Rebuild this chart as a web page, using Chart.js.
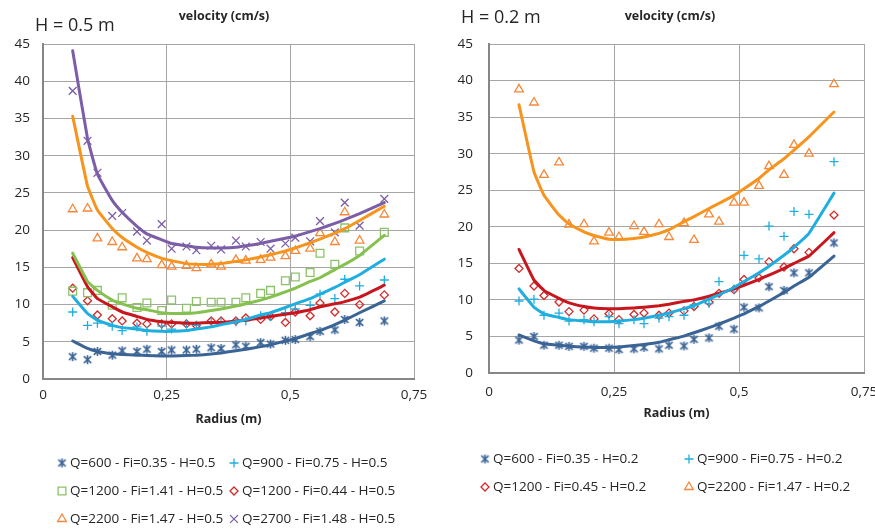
<!DOCTYPE html>
<html>
<head>
<meta charset="utf-8">
<script src="https://cdn.jsdelivr.net/npm/chart.js@4.4.1/dist/chart.umd.min.js"></script>
<style>
html, body { margin: 0; padding: 0; background: #fff; width: 875px; height: 529px; overflow: hidden; }
canvas { position: absolute; top: 0; }
#leftChart { left: 0; }
#rightChart { left: 440px; }
.txt { position: absolute; font-family: "Open Sans", sans-serif; color: #262626; white-space: nowrap; line-height: 1; }
.big { font-size: 18px; }
.small { font-size: 12.5px; font-weight: bold; transform: translateX(-50%); }
</style>
</head>
<body>
<canvas id="leftChart" width="440" height="529"></canvas>
<canvas id="rightChart" width="460" height="529"></canvas>
<div class="txt big" style="left:35px; top:15px;">H = 0.5 m</div>
<div class="txt small" style="left:224px; top:10px;">velocity (cm/s)</div>
<div class="txt big" style="left:461px; top:7px;">H = 0.2 m</div>
<div class="txt small" style="left:670px; top:10px;">velocity (cm/s)</div>
<script>
// radius positions of the measurements (m)
const radius = [0.06, 0.09, 0.11, 0.14, 0.16, 0.19, 0.21, 0.24, 0.26, 0.29, 0.31, 0.34, 0.36,
                0.39, 0.41, 0.44, 0.46, 0.49, 0.51, 0.54, 0.56, 0.59, 0.61, 0.64, 0.69];
const xTickLabels = ['0', '0,25', '0,5', '0,75'];

// H = 0.5 m : measured velocity (cm/s) and fitted curve
const q600H05 = [3.0, 2.6, 3.7, 3.2, 3.8, 3.7, 4.0, 3.7, 3.9, 3.9, 4.0, 4.2, 4.1, 4.6, 4.4, 4.9, 4.7, 5.2, 5.3, 5.7, 6.4, 6.6, 8.0, 7.6, 7.8];
const fit600H05 = [5.1, 4.1, 3.7, 3.4, 3.3, 3.2, 3.15, 3.1, 3.1, 3.15, 3.2, 3.35, 3.5, 3.8, 4.0, 4.35, 4.6, 5.1, 5.4, 6.1, 6.5, 7.3, 7.9, 8.9, 10.5];
const q900H05 = [9.0, 7.2, 7.5, 7.1, 6.5, 7.0, 6.4, 7.1, 6.7, 7.4, 7.2, 7.7, 7.7, 7.7, 7.8, 8.5, 8.4, 8.9, 9.4, 9.9, 11.4, 10.8, 13.4, 12.5, 13.3];
const fit900H05 = [11.1, 8.8, 7.9, 7.2, 6.9, 6.7, 6.5, 6.4, 6.4, 6.5, 6.7, 7.0, 7.3, 7.7, 8.0, 8.6, 8.9, 9.6, 10.1, 10.8, 11.4, 12.3, 13.0, 14.0, 16.1];
const q1200aH05 = [11.8, 11.6, 11.9, 9.9, 10.9, 9.6, 10.2, 9.2, 10.6, 9.5, 10.4, 10.3, 10.3, 10.3, 10.9, 11.5, 11.9, 13.2, 13.7, 14.3, 16.9, 15.4, 20.3, 17.2, 19.7];
const fit1200aH05 = [16.9, 13.1, 11.9, 10.6, 10.1, 9.5, 9.3, 8.9, 8.8, 8.8, 8.9, 9.2, 9.4, 9.8, 10.1, 10.6, 11.0, 11.7, 12.2, 13.1, 13.6, 14.7, 15.4, 16.6, 19.3];
const q1200bH05 = [12.2, 10.5, 8.6, 8.1, 7.8, 7.5, 7.4, 7.4, 7.4, 7.4, 7.2, 7.8, 7.8, 7.8, 8.2, 8.0, 8.4, 7.6, 9.0, 8.5, 10.2, 9.0, 11.5, 10.0, 11.3];
const fit1200bH05 = [16.3, 12.4, 10.8, 9.7, 9.0, 8.4, 8.0, 7.7, 7.6, 7.5, 7.5, 7.6, 7.6, 7.8, 7.9, 8.2, 8.4, 8.7, 8.9, 9.3, 9.7, 10.1, 10.4, 11.0, 12.6];
const q2200H05 = [22.8, 22.9, 18.9, 18.4, 17.7, 16.2, 16.1, 15.3, 15.1, 15.2, 14.9, 15.4, 15.1, 16.0, 15.9, 16.0, 16.3, 16.5, 17.2, 17.5, 19.6, 18.4, 22.4, 18.6, 22.1];
const fit2200H05 = [35.3, 25.9, 22.7, 20.2, 19.0, 17.7, 17.0, 16.2, 15.9, 15.5, 15.4, 15.4, 15.5, 15.8, 16.0, 16.4, 16.7, 17.2, 17.6, 18.3, 18.8, 19.6, 20.2, 21.3, 23.2];
const q2700H05 = [38.7, 32.0, 27.7, 21.9, 22.3, 19.8, 18.6, 20.8, 17.5, 17.8, 17.3, 17.9, 17.4, 18.6, 17.8, 18.4, 17.5, 18.2, 19.0, 18.5, 21.2, 19.7, 23.7, 20.6, 24.2];
const fit2700H05 = [44.1, 32.3, 27.5, 24.0, 22.4, 20.5, 19.5, 18.7, 18.2, 17.9, 17.7, 17.6, 17.6, 17.7, 17.9, 18.2, 18.5, 18.9, 19.2, 19.8, 20.2, 20.9, 21.4, 22.2, 23.7];

// H = 0.2 m
const q600H02 = [4.5, 5.0, 3.8, 3.8, 3.65, 3.65, 3.4, 3.4, 3.2, 3.3, 3.5, 3.3, 3.8, 3.7, 4.6, 4.8, 6.4, 6.0, 9.0, 8.9, 11.8, 11.3, 13.7, 13.7, 17.8];
const fit600H02 = [5.2, 4.4, 4.0, 3.8, 3.65, 3.55, 3.5, 3.5, 3.55, 3.75, 3.9, 4.2, 4.55, 5.05, 5.5, 6.2, 6.7, 7.5, 8.1, 9.1, 9.85, 11.0, 11.9, 13.1, 16.0];
const q900H02 = [9.85, 10.1, 7.9, 8.2, 7.1, 7.3, 7.0, 7.7, 6.75, 7.3, 6.75, 7.5, 7.7, 7.9, 9.3, 9.5, 12.5, 11.5, 16.1, 15.6, 20.1, 18.7, 22.1, 21.7, 28.9];
const fit900H02 = [11.5, 9.0, 8.1, 7.6, 7.3, 7.1, 7.0, 7.0, 7.1, 7.3, 7.5, 7.9, 8.2, 8.8, 9.2, 10.1, 10.7, 11.7, 12.5, 13.7, 14.6, 16.1, 17.2, 19.1, 24.6];
const q1200H02 = [14.3, 11.9, 10.6, 9.7, 8.4, 8.6, 7.4, 8.1, 7.3, 8.0, 8.2, 7.9, 8.2, 8.5, 9.1, 9.7, 10.9, 11.4, 12.8, 13.0, 15.2, 14.5, 17.0, 16.5, 21.6];
const fit1200H02 = [16.9, 12.7, 11.3, 10.2, 9.6, 9.1, 8.9, 8.8, 8.8, 8.9, 9.0, 9.2, 9.4, 9.8, 10.0, 10.5, 10.9, 11.5, 12.0, 12.8, 13.4, 14.3, 15.0, 16.0, 19.2];
const q2200H02 = [38.8, 37.0, 27.1, 28.8, 20.3, 20.35, 18.0, 19.2, 18.6, 20.1, 19.3, 20.35, 18.6, 20.5, 18.2, 21.7, 20.7, 23.3, 23.3, 25.6, 28.3, 27.1, 31.2, 30.0, 39.5];
const fit2200H02 = [36.7, 27.5, 24.3, 21.6, 20.4, 19.3, 18.8, 18.3, 18.25, 18.4, 18.6, 19.1, 19.6, 20.7, 21.4, 22.5, 23.2, 24.3, 25.2, 26.6, 27.8, 29.3, 30.5, 32.3, 35.7];

const labelsH05 = ['Q=600 - Fi=0.35 - H=0.5', 'Q=900 - Fi=0.75 - H=0.5', 'Q=1200 - Fi=1.41 - H=0.5',
                   'Q=1200 - Fi=0.44 - H=0.5', 'Q=2200 - Fi=1.47 - H=0.5', 'Q=2700 - Fi=1.48 - H=0.5'];
const labelsH02 = ['Q=600 - Fi=0.35 - H=0.2', 'Q=900 - Fi=0.75 - H=0.2',
                   'Q=1200 - Fi=0.45 - H=0.2', 'Q=2200 - Fi=1.47 - H=0.2'];

const FONT = '"Open Sans", sans-serif';
const DARK = '#3B6496', CYAN = '#1EAEE0', GREEN = '#86C150', RED = '#C8161E', ORANGE = '#F7941D', PURPLE = '#7B5EA7';

// excel style asterisk marker
function asteriskMarker(color) {
    const c = document.createElement('canvas');
    c.width = 11; c.height = 11;
    const g = c.getContext('2d');
    g.strokeStyle = color;
    g.lineWidth = 1.6;
    g.beginPath();
    g.moveTo(5.5, 1); g.lineTo(5.5, 10);
    g.moveTo(1.8, 2.2); g.lineTo(9.2, 8.8);
    g.moveTo(9.2, 2.2); g.lineTo(1.8, 8.8);
    g.stroke();
    return c;
}

const toPoints = vals => radius.map((r, i) => ({ x: r, y: vals[i] }));

function markers(label, vals, color, style, size) {
    return {
        label: label,
        data: toPoints(vals),
        pointStyle: style,
        pointRadius: size,
        pointBorderWidth: 1.3,
        borderColor: color,
        backgroundColor: 'rgba(0,0,0,0)',
        showLine: false,
        order: 2
    };
}

function curve(vals, color) {
    return {
        label: '',
        data: toPoints(vals),
        showLine: true,
        borderColor: color,
        borderWidth: 3,
        pointRadius: 0,
        tension: 0.1,
        borderCapStyle: 'round',
        order: 1
    };
}

// legend drawn by hand so the columns line up like the original
function legendPlugin(items) {
    return {
        id: 'seriesLegend',
        afterDraw(chart) {
            const ctx = chart.ctx;
            ctx.save();
            ctx.textBaseline = 'middle';
            ctx.font = '13.5px ' + FONT;
            items.forEach(it => {
                const ds = chart.data.datasets[it.index];
                ctx.strokeStyle = ds.borderColor;
                ctx.fillStyle = 'rgba(0,0,0,0)';
                ctx.lineWidth = 1.3;
                Chart.helpers.drawPoint(ctx, {
                    pointStyle: ds.pointStyle, radius: ds.pointRadius, rotation: 0, borderWidth: 1.3
                }, it.x, it.y);
                ctx.fillStyle = '#262626';
                ctx.fillText(ds.label, it.x + 8, it.y);
            });
            ctx.restore();
        }
    };
}

function makeChart(id, datasets, opts) {
    return new Chart(document.getElementById(id), {
        type: 'scatter',
        data: { datasets: datasets },
        options: {
            responsive: false,
            animation: false,
            devicePixelRatio: 1,
            layout: { padding: opts.padding },
            plugins: { legend: { display: false }, tooltip: { enabled: false } },
            scales: {
                x: {
                    type: 'linear',
                    min: 0, max: 0.75,
                    afterFit: s => { s.height = 60; },
                    afterBuildTicks: s => { s.ticks = [0, 0.25, 0.5, 0.75].map(v => ({ value: v })); },
                    ticks: {
                        padding: opts.xTickPad,
                        color: '#262626',
                        font: { family: FONT, size: 13.5 },
                        maxRotation: 0,
                        callback: (v, i) => xTickLabels[i]
                    },
                    grid: { color: '#A6A6A6', lineWidth: 1, drawTicks: false },
                    border: { color: '#868686', width: 2 },
                    title: {
                        display: true,
                        text: 'Radius (m)',
                        color: '#262626',
                        font: { family: FONT, size: 12.5, weight: 'bold' },
                        padding: { top: 4, bottom: 12 }
                    }
                },
                y: {
                    min: 0, max: 45,
                    afterFit: s => { s.width = opts.yWidth; },
                    ticks: {
                        stepSize: 5,
                        padding: opts.yTickPad,
                        color: '#262626',
                        font: { family: FONT, size: 13.5 }
                    },
                    grid: { color: '#A6A6A6', lineWidth: 1, drawTicks: false },
                    border: { color: '#868686', width: 2 }
                }
            }
        },
        plugins: [legendPlugin(opts.legend)]
    });
}

const star600 = asteriskMarker(DARK);

makeChart('leftChart', [
    markers(labelsH05[0], q600H05, DARK, star600, 5),
    markers(labelsH05[1], q900H05, CYAN, 'cross', 4.5),
    markers(labelsH05[2], q1200aH05, '#8DC26A', 'rect', 5.5),
    markers(labelsH05[3], q1200bH05, '#D42A2A', 'rectRot', 4),
    markers(labelsH05[4], q2200H05, '#F5883A', 'triangle', 5),
    markers(labelsH05[5], q2700H05, PURPLE, 'crossRot', 5.5),
    curve(fit600H05, DARK),
    curve(fit900H05, CYAN),
    curve(fit1200aH05, GREEN),
    curve(fit1200bH05, RED),
    curve(fit2200H05, ORANGE),
    curve(fit2700H05, PURPLE)
], {
    padding: { top: 44, right: 26, bottom: 90, left: 0 },
    yWidth: 43, yTickPad: 13, xTickPad: 8,
    legend: [
        { index: 0, x: 62, y: 463 }, { index: 1, x: 234, y: 463 },
        { index: 2, x: 62, y: 491 }, { index: 3, x: 234, y: 491 },
        { index: 4, x: 62, y: 519 }, { index: 5, x: 234, y: 519 }
    ]
});

makeChart('rightChart', [
    markers(labelsH02[0], q600H02, DARK, star600, 5),
    markers(labelsH02[1], q900H02, CYAN, 'cross', 4.5),
    markers(labelsH02[2], q1200H02, '#D42A2A', 'rectRot', 4),
    markers(labelsH02[3], q2200H02, '#F5883A', 'triangle', 5),
    curve(fit600H02, DARK),
    curve(fit900H02, CYAN),
    curve(fit1200H02, RED),
    curve(fit2200H02, ORANGE)
], {
    padding: { top: 44, right: 36, bottom: 96, left: 0 },
    yWidth: 49, yTickPad: 16, xTickPad: 11,
    legend: [
        { index: 0, x: 45, y: 459 }, { index: 1, x: 249, y: 459 },
        { index: 2, x: 45, y: 487 }, { index: 3, x: 249, y: 487 }
    ]
});
</script>
</body>
</html>
